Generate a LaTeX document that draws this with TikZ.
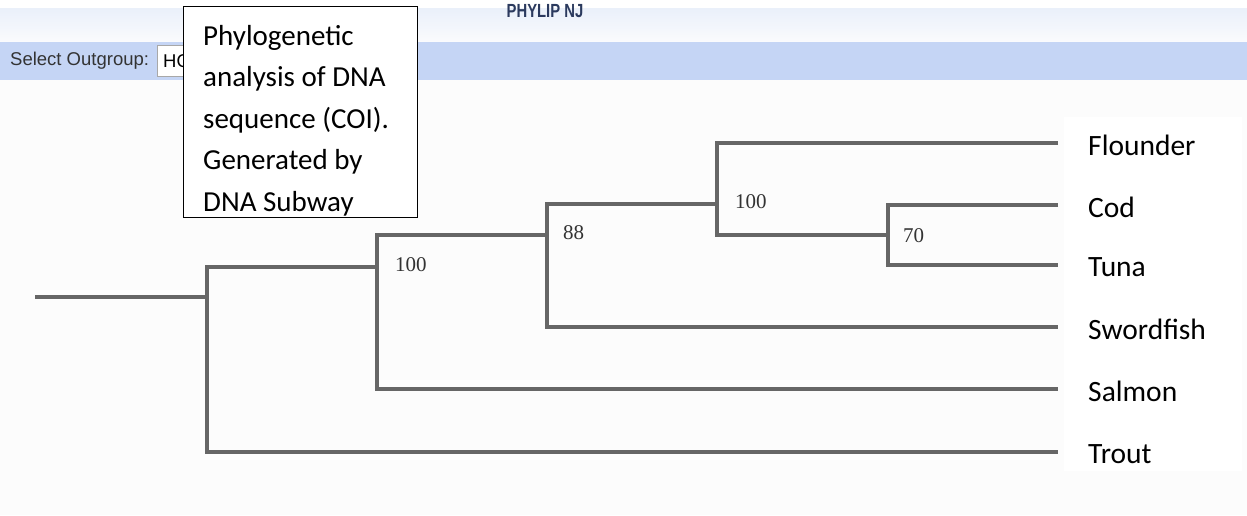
\documentclass[tikz,border=0pt]{standalone}
\usepackage{fontspec}
\setmainfont{Carlito}
\newfontfamily\numfont{Liberation Serif}
\newfontfamily\uifont{Liberation Sans}
\newfontfamily\titlefont[FakeStretch=0.78]{Liberation Sans}
\definecolor{pagebg}{HTML}{FCFCFC}
\definecolor{hdrtop}{HTML}{EAF0FA}
\definecolor{hdrbot}{HTML}{FAFBFD}
\definecolor{bandblue}{HTML}{C5D5F5}
\definecolor{treegray}{HTML}{666666}
\definecolor{titleblue}{HTML}{2B3A5E}
\definecolor{uitext}{HTML}{333333}
\definecolor{inputborder}{HTML}{A8A8A8}
\tikzset{
  branch/.style={draw=treegray, line width=4pt, line join=miter},
  leaflabel/.style={anchor=west, inner sep=0pt, font=\fontsize{29.5}{35}\selectfont, text=black},
  support/.style={anchor=west, inner sep=0pt, font=\numfont\fontsize{21}{25}\selectfont, text=uitext},
  notebox/.style={draw=black, line width=1.2pt, fill=white, anchor=north west, minimum width=234pt, minimum height=211pt, inner sep=0pt},
  notetext/.style={anchor=north west, inner sep=0pt, align=left, font=\fontsize{29}{41.5}\selectfont},
  uilabel/.style={anchor=west, inner sep=0pt, font=\uifont\fontsize{18.5}{21}\selectfont},
}
\begin{document}
\begin{tikzpicture}[x=1pt,y=-1pt]
\useasboundingbox (0,0) rectangle (1247,515);
% page background
\fill[white] (0,0) rectangle (1247,515);
\fill[pagebg] (0,80) rectangle (1247,515);
\shade[top color=hdrtop, bottom color=hdrbot] (0,8) rectangle (1247,42);
\fill[bandblue] (0,42) rectangle (1247,80);
\node[font=\titlefont\bfseries\fontsize{19}{21}\selectfont, text=titleblue, inner sep=0pt] (title) at (545,11) {PHYLIP NJ};
% outgroup selector
\node[uilabel, text=uitext] (sel) at (10,61) {Select Outgroup:};
\node[draw=inputborder, fill=white, anchor=north west, minimum width=70pt, minimum height=31pt, inner sep=0pt] (input) at (157,45) {};
\node[uilabel, text=black] (inputtxt) at (163,61) {HO};
% label background
\fill[white] (1064,117) rectangle (1242,471);
% tree coordinates
\coordinate (rootL) at (35,297);
\coordinate (n1) at (207,297);
\coordinate (n2) at (377,267);
\coordinate (n3) at (547,235);
\coordinate (n4) at (717,204);
\coordinate (n5) at (888,235);
\coordinate (eFl) at (1058,143);
\coordinate (eCo) at (1058,205);
\coordinate (eTu) at (1058,265);
\coordinate (eSw) at (1058,327);
\coordinate (eSa) at (1058,389);
\coordinate (eTr) at (1058,452);
% branches
\draw[branch] (rootL) -- (n1);
\draw[branch] (n2) -| (n1) |- (eTr);
\draw[branch] (n3) -| (n2) |- (eSa);
\draw[branch] (n4) -| (n3) |- (eSw);
\draw[branch] (eFl) -| (n4) |- (n5);
\draw[branch] (eCo) -| (n5) |- (eTu);
% support values
\node[support] (s2) at (395,265) {100};
\node[support] (s3) at (563,233) {88};
\node[support] (s4) at (735,202) {100};
\node[support] (s5) at (903,236) {70};
% leaf labels
\node[leaflabel] (Fl) at (1088,145) {Flounder};
\node[leaflabel] (Co) at (1088,207) {Cod};
\node[leaflabel] (Tu) at (1088,267) {Tuna};
\node[leaflabel] (Sw) at (1088,329) {Swordfish};
\node[leaflabel] (Sa) at (1088,391) {Salmon};
\node[leaflabel] (Tr) at (1088,454) {Trout};
% note
\node[notebox] (note) at (183,6) {};
\node[notetext] (notetxt) at (203,25) {Phylogenetic\\analysis of DNA\\sequence (COI).\\Generated by\\DNA Subway};
\end{tikzpicture}
\end{document}
